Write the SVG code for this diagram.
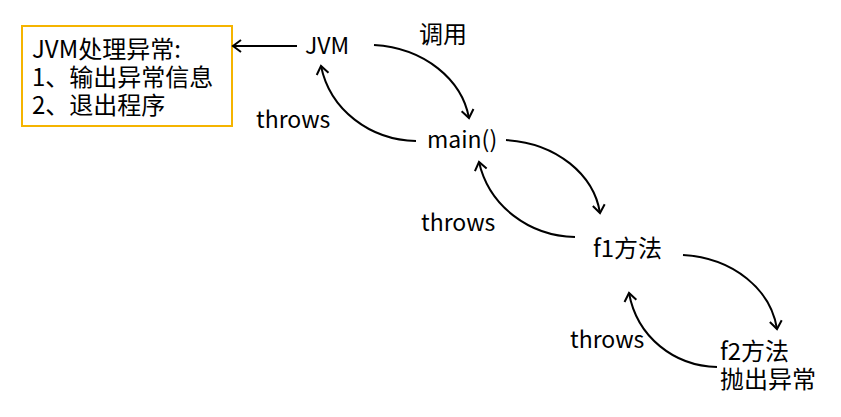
<svg xmlns="http://www.w3.org/2000/svg" width="841" height="417" viewBox="0 0 841 417">
<style>
text{font-family:"Noto Sans CJK SC","Noto Sans",sans-serif;font-size:23px;fill:#000}
.b{font-size:24px}
.c{fill:none;stroke:#000;stroke-width:2}
</style>
<defs>
<marker id="a" markerUnits="userSpaceOnUse" markerWidth="20" markerHeight="20" refX="0" refY="0" viewBox="-10 -10 20 20" orient="auto" overflow="visible">
<path d="M-8,-6 L0,0 L-8,6" fill="none" stroke="#000" stroke-width="2"/>
</marker>
</defs>
<rect width="841" height="417" fill="#fff"/>
<g id="box">
<rect x="22" y="26" width="210" height="100" fill="#fff" stroke="#F5B400" stroke-width="2"/>
<text class="b" x="32" y="58">JVM处理异常:</text>
<text class="b" x="32" y="86">1、输出异常信息</text>
<text class="b" x="32" y="114">2、退出程序</text>
</g>
<g id="jvm"><text x="305" y="54">JVM</text></g>
<g id="call"><text class="b" x="419" y="43">调用</text></g>
<g id="main"><text x="427" y="148">main()</text></g>
<g id="f1"><text class="b" x="593" y="257">f1方法</text></g>
<g id="f2"><text class="b" x="720" y="360">f2方法</text><text class="b" x="720" y="388">抛出异常</text></g>
<g id="labels">
<text x="256" y="128">throws</text>
<text x="421" y="231">throws</text>
<text x="570" y="348">throws</text>
</g>
<g id="connectors">
<path class="c" d="M297,46 L233,46" marker-end="url(#a)"/>
<path class="c" d="M374,45 C425,48 462,80 469,118" marker-end="url(#a)"/>
<path class="c" d="M416,141 C370,140 330,110 321,66" marker-end="url(#a)"/>
<path class="c" d="M506,140 C557,143 594,175 600,213" marker-end="url(#a)"/>
<path class="c" d="M575,237 C529,236 489,206 479,162" marker-end="url(#a)"/>
<path class="c" d="M683,255 C734,258 771,290 777,329" marker-end="url(#a)"/>
<path class="c" d="M717,367 C674,366 637,337 629,293" marker-end="url(#a)"/>
</g>
</svg>
